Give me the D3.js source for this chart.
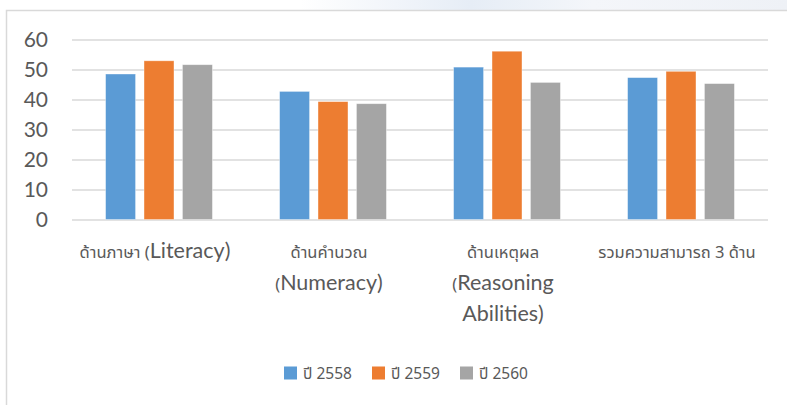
<!DOCTYPE html>
<html>
<head>
<meta charset="utf-8">
<script src="https://cdn.jsdelivr.net/npm/d3@7"></script>
<style>
  body { margin: 0; background: #fff; }
  .thai { font-family: "Noto Sans Thai", "Leelawadee UI", Tahoma, "Noto Sans", sans-serif; }
  .latin { font-family: Lato, "Open Sans", sans-serif; }
</style>
</head>
<body>
<div id="chart"></div>
<script>
// categories, each split into the lines shown under the axis
const categories = ["literacy", "numeracy", "reasoning", "total"];
const categoryLines = [
    ["ด้านภาษา (Literacy)"],
    ["ด้านคำนวณ", "(Numeracy)"],
    ["ด้านเหตุผล", "(Reasoning", "Abilities)"],
    ["รวมความสามารถ 3 ด้าน"]
];
const seriesNames = ["ปี 2558", "ปี 2559", "ปี 2560"];
const values2558 = [48.5, 42.7, 50.8, 47.3];
const values2559 = [52.9, 39.3, 56.1, 49.4];
const values2560 = [51.6, 38.6, 45.7, 45.3];
const yTicks = [0, 10, 20, 30, 40, 50, 60];
const colors = ["#5b9bd5", "#ed7d31", "#a5a5a5"];

const seriesValues = [values2558, values2559, values2560];
const rows = categories.map((c, i) => ({
    key: c,
    lines: categoryLines[i],
    values: seriesNames.map((s, j) => ({ series: s, value: seriesValues[j][i] }))
}));

const width = 787, height = 405;
const plot = { left: 72, right: 768, top: 39.5, bottom: 219.5 };

const svg = d3.select("#chart").append("svg")
    .attr("width", width)
    .attr("height", height);

// faint background strip above the frame (top right)
const defs = svg.append("defs");
const grad = defs.append("linearGradient").attr("id", "topfade")
    .attr("x1", "0%").attr("x2", "100%");
grad.append("stop").attr("offset", "0%").attr("stop-color", "#ffffff");
grad.append("stop").attr("offset", "35%").attr("stop-color", "#e6edf6");
grad.append("stop").attr("offset", "60%").attr("stop-color", "#f4f6fa");
grad.append("stop").attr("offset", "100%").attr("stop-color", "#eef1f6");
svg.append("rect")
    .attr("x", 300).attr("y", 0)
    .attr("width", width - 300).attr("height", 10)
    .attr("fill", "url(#topfade)");

// chart frame
svg.append("path")
    .attr("d", `M6.5,${height} V10.5 H${width}`)
    .attr("fill", "none")
    .attr("stroke", "#d9d9d9")
    .attr("stroke-width", 1.5);

const x0 = d3.scaleBand()
    .domain(categories)
    .range([plot.left, plot.right])
    .paddingInner(0.386)
    .paddingOuter(0.193);

const x1 = d3.scaleBand()
    .domain(seriesNames)
    .range([0, x0.bandwidth()])
    .paddingInner(0.22);

const y = d3.scaleLinear()
    .domain([0, 60])
    .range([plot.bottom, plot.top]);

const color = d3.scaleOrdinal().domain(seriesNames).range(colors);

// gridlines + tick labels
const yAxis = d3.axisLeft(y)
    .tickValues(yTicks)
    .tickSize(-(plot.right - plot.left))
    .tickPadding(24);

const yAxisG = svg.append("g")
    .attr("transform", `translate(${plot.left},0)`)
    .call(yAxis);
yAxisG.select(".domain").remove();
yAxisG.selectAll(".tick line")
    .attr("stroke", "#d9d9d9")
    .attr("stroke-width", 1.5);
yAxisG.selectAll(".tick text")
    .attr("class", "latin")
    .attr("fill", "#595959")
    .style("font-size", "21px");

// bars
const groups = svg.append("g").selectAll("g")
    .data(rows)
    .join("g")
    .attr("transform", d => `translate(${x0(d.key)},0)`);

groups.selectAll("rect")
    .data(d => d.values)
    .join("rect")
    .attr("x", d => x1(d.series))
    .attr("y", d => y(d.value))
    .attr("width", x1.bandwidth())
    .attr("height", d => y(0) - y(d.value))
    .attr("fill", d => color(d.series))
    .attr("stroke", "#ffffff")
    .attr("stroke-opacity", 0.5)
    .attr("stroke-width", 0.75);

// category labels: Thai parts smaller, Latin parts larger
const lineHeight = 31.5;
const labels = svg.append("g").selectAll("text")
    .data(rows)
    .join("text")
    .attr("text-anchor", "middle")
    .attr("fill", "#595959");

labels.each(function(d) {
    const t = d3.select(this);
    const cx = x0(d.key) + x0.bandwidth() / 2 - 4;
    d.lines.forEach((line, i) => {
        const parts = line.split(/([A-Za-z)]+)/).filter(p => p.length);
        parts.forEach((p, k) => {
            const latin = /[A-Za-z)]/.test(p);
            const span = t.append("tspan")
                .attr("class", latin ? "latin" : "thai")
                .style("font-size", latin ? "21.5px" : "16.5px")
                .text(p);
            if (k === 0) span.attr("x", cx).attr("y", 258 + i * lineHeight);
        });
    });
});

// legend
const legend = svg.append("g")
    .attr("transform", "translate(284,366.5)");
const items = legend.selectAll("g")
    .data(seriesNames)
    .join("g")
    .attr("transform", (d, i) => `translate(${i * 88},0)`);
items.append("rect")
    .attr("width", 13)
    .attr("height", 13)
    .attr("fill", d => color(d));
items.append("text")
    .attr("class", "thai")
    .attr("x", 19)
    .attr("y", 12)
    .attr("fill", "#595959")
    .style("font-size", "15.5px")
    .text(d => d);
</script>
</body>
</html>
